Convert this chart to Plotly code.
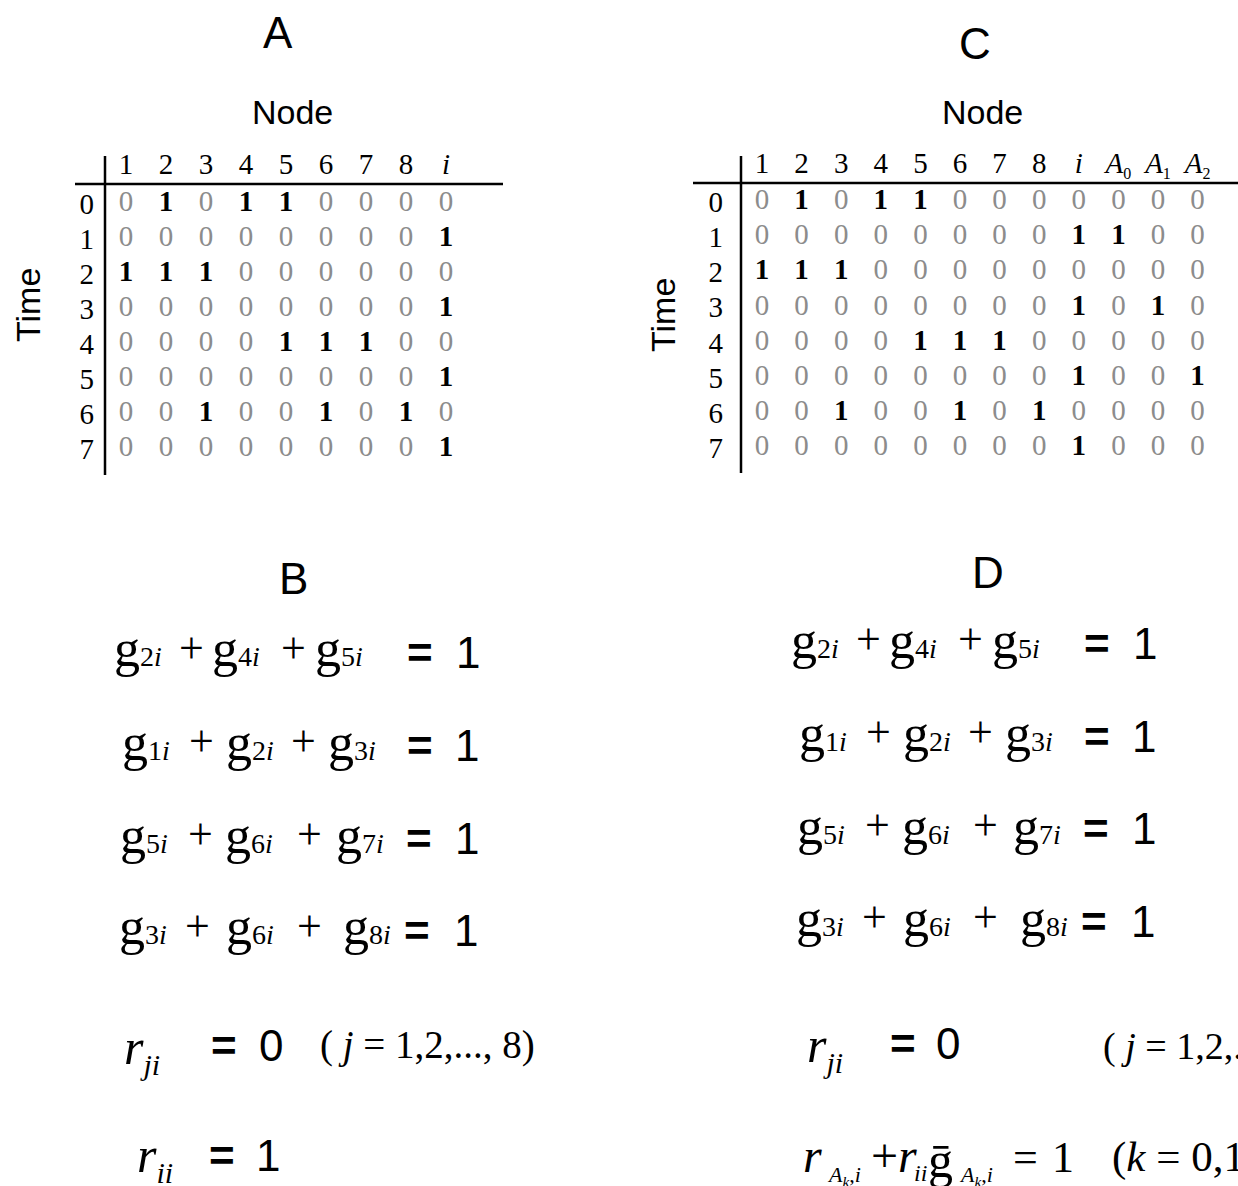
import plotly.graph_objects as go

W, H = 1238, 1186
SERIF = "Liberation Serif, Times New Roman, serif"
SANS = "Liberation Sans, Arial, sans-serif"
GRAY = "#8c8c8c"

# ── Data ──────────────────────────────────────────────────────────────────────
times = ["0", "1", "2", "3", "4", "5", "6", "7"]
nodes_a = ["1", "2", "3", "4", "5", "6", "7", "8", "<i>i</i>"]
nodes_c = nodes_a + [f"<i>A</i><sub><span style='font-size:16px'>{k}</span></sub>"
                     for k in ("0", "1", "2")]

table_a = [
    [0, 1, 0, 1, 1, 0, 0, 0, 0],
    [0, 0, 0, 0, 0, 0, 0, 0, 1],
    [1, 1, 1, 0, 0, 0, 0, 0, 0],
    [0, 0, 0, 0, 0, 0, 0, 0, 1],
    [0, 0, 0, 0, 1, 1, 1, 0, 0],
    [0, 0, 0, 0, 0, 0, 0, 0, 1],
    [0, 0, 1, 0, 0, 1, 0, 1, 0],
    [0, 0, 0, 0, 0, 0, 0, 0, 1],
]
table_c = [
    [0, 1, 0, 1, 1, 0, 0, 0, 0, 0, 0, 0],
    [0, 0, 0, 0, 0, 0, 0, 0, 1, 1, 0, 0],
    [1, 1, 1, 0, 0, 0, 0, 0, 0, 0, 0, 0],
    [0, 0, 0, 0, 0, 0, 0, 0, 1, 0, 1, 0],
    [0, 0, 0, 0, 1, 1, 1, 0, 0, 0, 0, 0],
    [0, 0, 0, 0, 0, 0, 0, 0, 1, 0, 0, 1],
    [0, 0, 1, 0, 0, 1, 0, 1, 0, 0, 0, 0],
    [0, 0, 0, 0, 0, 0, 0, 0, 1, 0, 0, 0],
]

# node indices summed in each constraint g_{ji}
eq_terms = [["2", "4", "5"], ["1", "2", "3"], ["5", "6", "7"], ["3", "6", "8"]]


def px(x):
    return x / W


def py(y):
    return 1 - y / H


fig = go.Figure()


def add_table(vals, xa, ya):
    for bit, color, weight in [(0, GRAY, "normal"), (1, "black", "bold")]:
        xs, ys = [], []
        for r, row in enumerate(vals):
            for c, v in enumerate(row):
                if v == bit:
                    xs.append(c)
                    ys.append(r)
        fig.add_trace(go.Scatter(
            x=xs, y=ys, mode="text", text=[str(bit)] * len(xs),
            textposition="middle center",
            textfont=dict(family=SERIF, size=29, color=color, weight=weight),
            xaxis=xa, yaxis=ya, showlegend=False, hoverinfo="skip",
        ))


add_table(table_a, "x", "y")
add_table(table_c, "x2", "y2")

tick_font = dict(family=SERIF, size=29, color="black")
common_x = dict(side="top", ticks="", showgrid=False, zeroline=False,
                showline=False, tickmode="array", tickfont=tick_font,
                ticklabelstandoff=3)
common_y = dict(ticks="", showgrid=False, zeroline=False, showline=False,
                tickmode="array", tickfont=tick_font, anchor="free",
                side="left")

# table A: col 0 at x=126, 40 px apart; row 0 at y=204, 35 px apart
fig.update_layout(
    xaxis=dict(common_x, domain=[px(75), px(503)], range=[-1.275, 9.425],
               tickvals=list(range(len(nodes_a))), ticktext=nodes_a, anchor="y"),
    yaxis=dict(common_y, domain=[py(475), py(184)], range=[7.743, -0.571],
               tickvals=list(range(len(times))), ticktext=times,
               position=px(105), ticklabelstandoff=11),
    xaxis2=dict(common_x, domain=[px(693), px(1238)], range=[-1.742, 12.02],
                tickvals=list(range(len(nodes_c))), ticktext=nodes_c, anchor="y2"),
    yaxis2=dict(common_y, domain=[py(473), py(183)], range=[7.72, -0.541],
                tickvals=list(range(len(times))), ticktext=times,
                position=px(741), ticklabelstandoff=18),
)

# table rules
line = dict(color="black", width=2.5)
fig.add_shape(type="line", xref="paper", yref="paper",
              x0=px(75), x1=px(503), y0=py(184), y1=py(184), line=line)
fig.add_shape(type="line", xref="paper", yref="paper",
              x0=px(105), x1=px(105), y0=py(156), y1=py(475), line=line)
fig.add_shape(type="line", xref="paper", yref="paper",
              x0=px(693), x1=px(1238), y0=py(183), y1=py(183), line=line)
fig.add_shape(type="line", xref="paper", yref="paper",
              x0=px(741), x1=px(741), y0=py(156), y1=py(473), line=line)

annots = []


def txt(x, y, text, size, family=SANS, xanchor="center", angle=0, weight="normal"):
    annots.append(dict(
        x=px(x), y=py(y), xref="paper", yref="paper", text=text,
        showarrow=False, xanchor=xanchor, yanchor="middle", textangle=angle,
        font=dict(family=family, size=size, color="black", weight=weight),
    ))


# panel letters and axis titles
txt(278, 33, "A", 44)
txt(975, 43, "C", 44)
txt(293, 578, "B", 44)
txt(988, 572, "D", 44)
txt(292, 112, "Node", 34)
txt(982, 112, "Node", 34)
txt(28, 305, "Time", 34, angle=-90)
txt(663, 315, "Time", 34, angle=-90)


def g_term(j):
    return f"g<span style='font-size:28px'>{j}<i>i</i></span>"


# per-line layout: (y, term centres, plus centres, '=' centre, '1' centre)
b_lines = [
    (652, [138, 236, 339], [191, 293], 420, 468),
    (745, [146, 250, 352], [201, 303], 420, 467),
    (838, [144, 249, 360], [200, 309], 419, 467),
    (930, [143, 250, 367], [197, 309], 417, 466),
]
d_shift = (677, -9)

for (y, centres, plus, eqx, onex), terms in zip(b_lines, eq_terms):
    for dx, dy in [(0, 0), d_shift]:
        for cx, j in zip(centres, terms):
            txt(cx + dx, y + dy - 3, g_term(j), 52, SERIF)
        for p in plus:
            txt(p + dx, y + dy - 4, "+", 44, SERIF)
        txt(eqx + dx, y + dy, "=", 44, weight="bold")
        txt(onex + dx, y + dy, "1", 44)

# r_ji = 0 and r_ii = 1 (B)
r_ji = "<i>r</i><sub><span style='font-size:30px'><i>ji</i></span></sub>"
r_ii = "<i>r</i><sub><span style='font-size:30px'><i>ii</i></span></sub>"
j_range = "( <i>j</i> = 1,2,..., 8)"

txt(122, 1050, r_ji, 50, SERIF, xanchor="left")
txt(224, 1045, "=", 44, weight="bold")
txt(271, 1045, "0", 44)
txt(318, 1045, j_range, 39, SERIF, xanchor="left")

txt(135, 1158, r_ii, 50, SERIF, xanchor="left")
txt(222, 1155, "=", 44, weight="bold")
txt(268, 1155, "1", 44)

# D
txt(805, 1048, r_ji, 50, SERIF, xanchor="left")
txt(903, 1043, "=", 44, weight="bold")
txt(948, 1043, "0", 44)
txt(1101, 1046, j_range, 38, SERIF, xanchor="left")

sub_ak = "<i>A</i><sub><i>k</i></sub>,<i>i</i>"
txt(801, 1155, "<i>r</i>", 48, SERIF, xanchor="left")
txt(825, 1176, sub_ak, 22, SERIF, xanchor="left")
txt(869, 1155, "+<i>r</i>", 48, SERIF, xanchor="left")
txt(912, 1173, "<i>ii</i>", 24, SERIF, xanchor="left")
txt(926, 1160, "ḡ", 50, SERIF, xanchor="left")
txt(957, 1176, sub_ak, 22, SERIF, xanchor="left")
txt(1025, 1157, "=", 44, SERIF)
txt(1063, 1157, "1", 44, SERIF)
txt(1110, 1157, "(<i>k</i> = 0,1,2)", 43, SERIF, xanchor="left")

fig.update_layout(
    annotations=annots,
    width=W, height=H,
    margin=dict(l=0, r=0, t=0, b=0),
    paper_bgcolor="white",
    plot_bgcolor="white",
    showlegend=False,
)

fig.write_html("out.html",
               config={"displayModeBar": False},
               post_script="document.body.style.margin='0';"
                           "document.body.style.overflow='hidden';")
